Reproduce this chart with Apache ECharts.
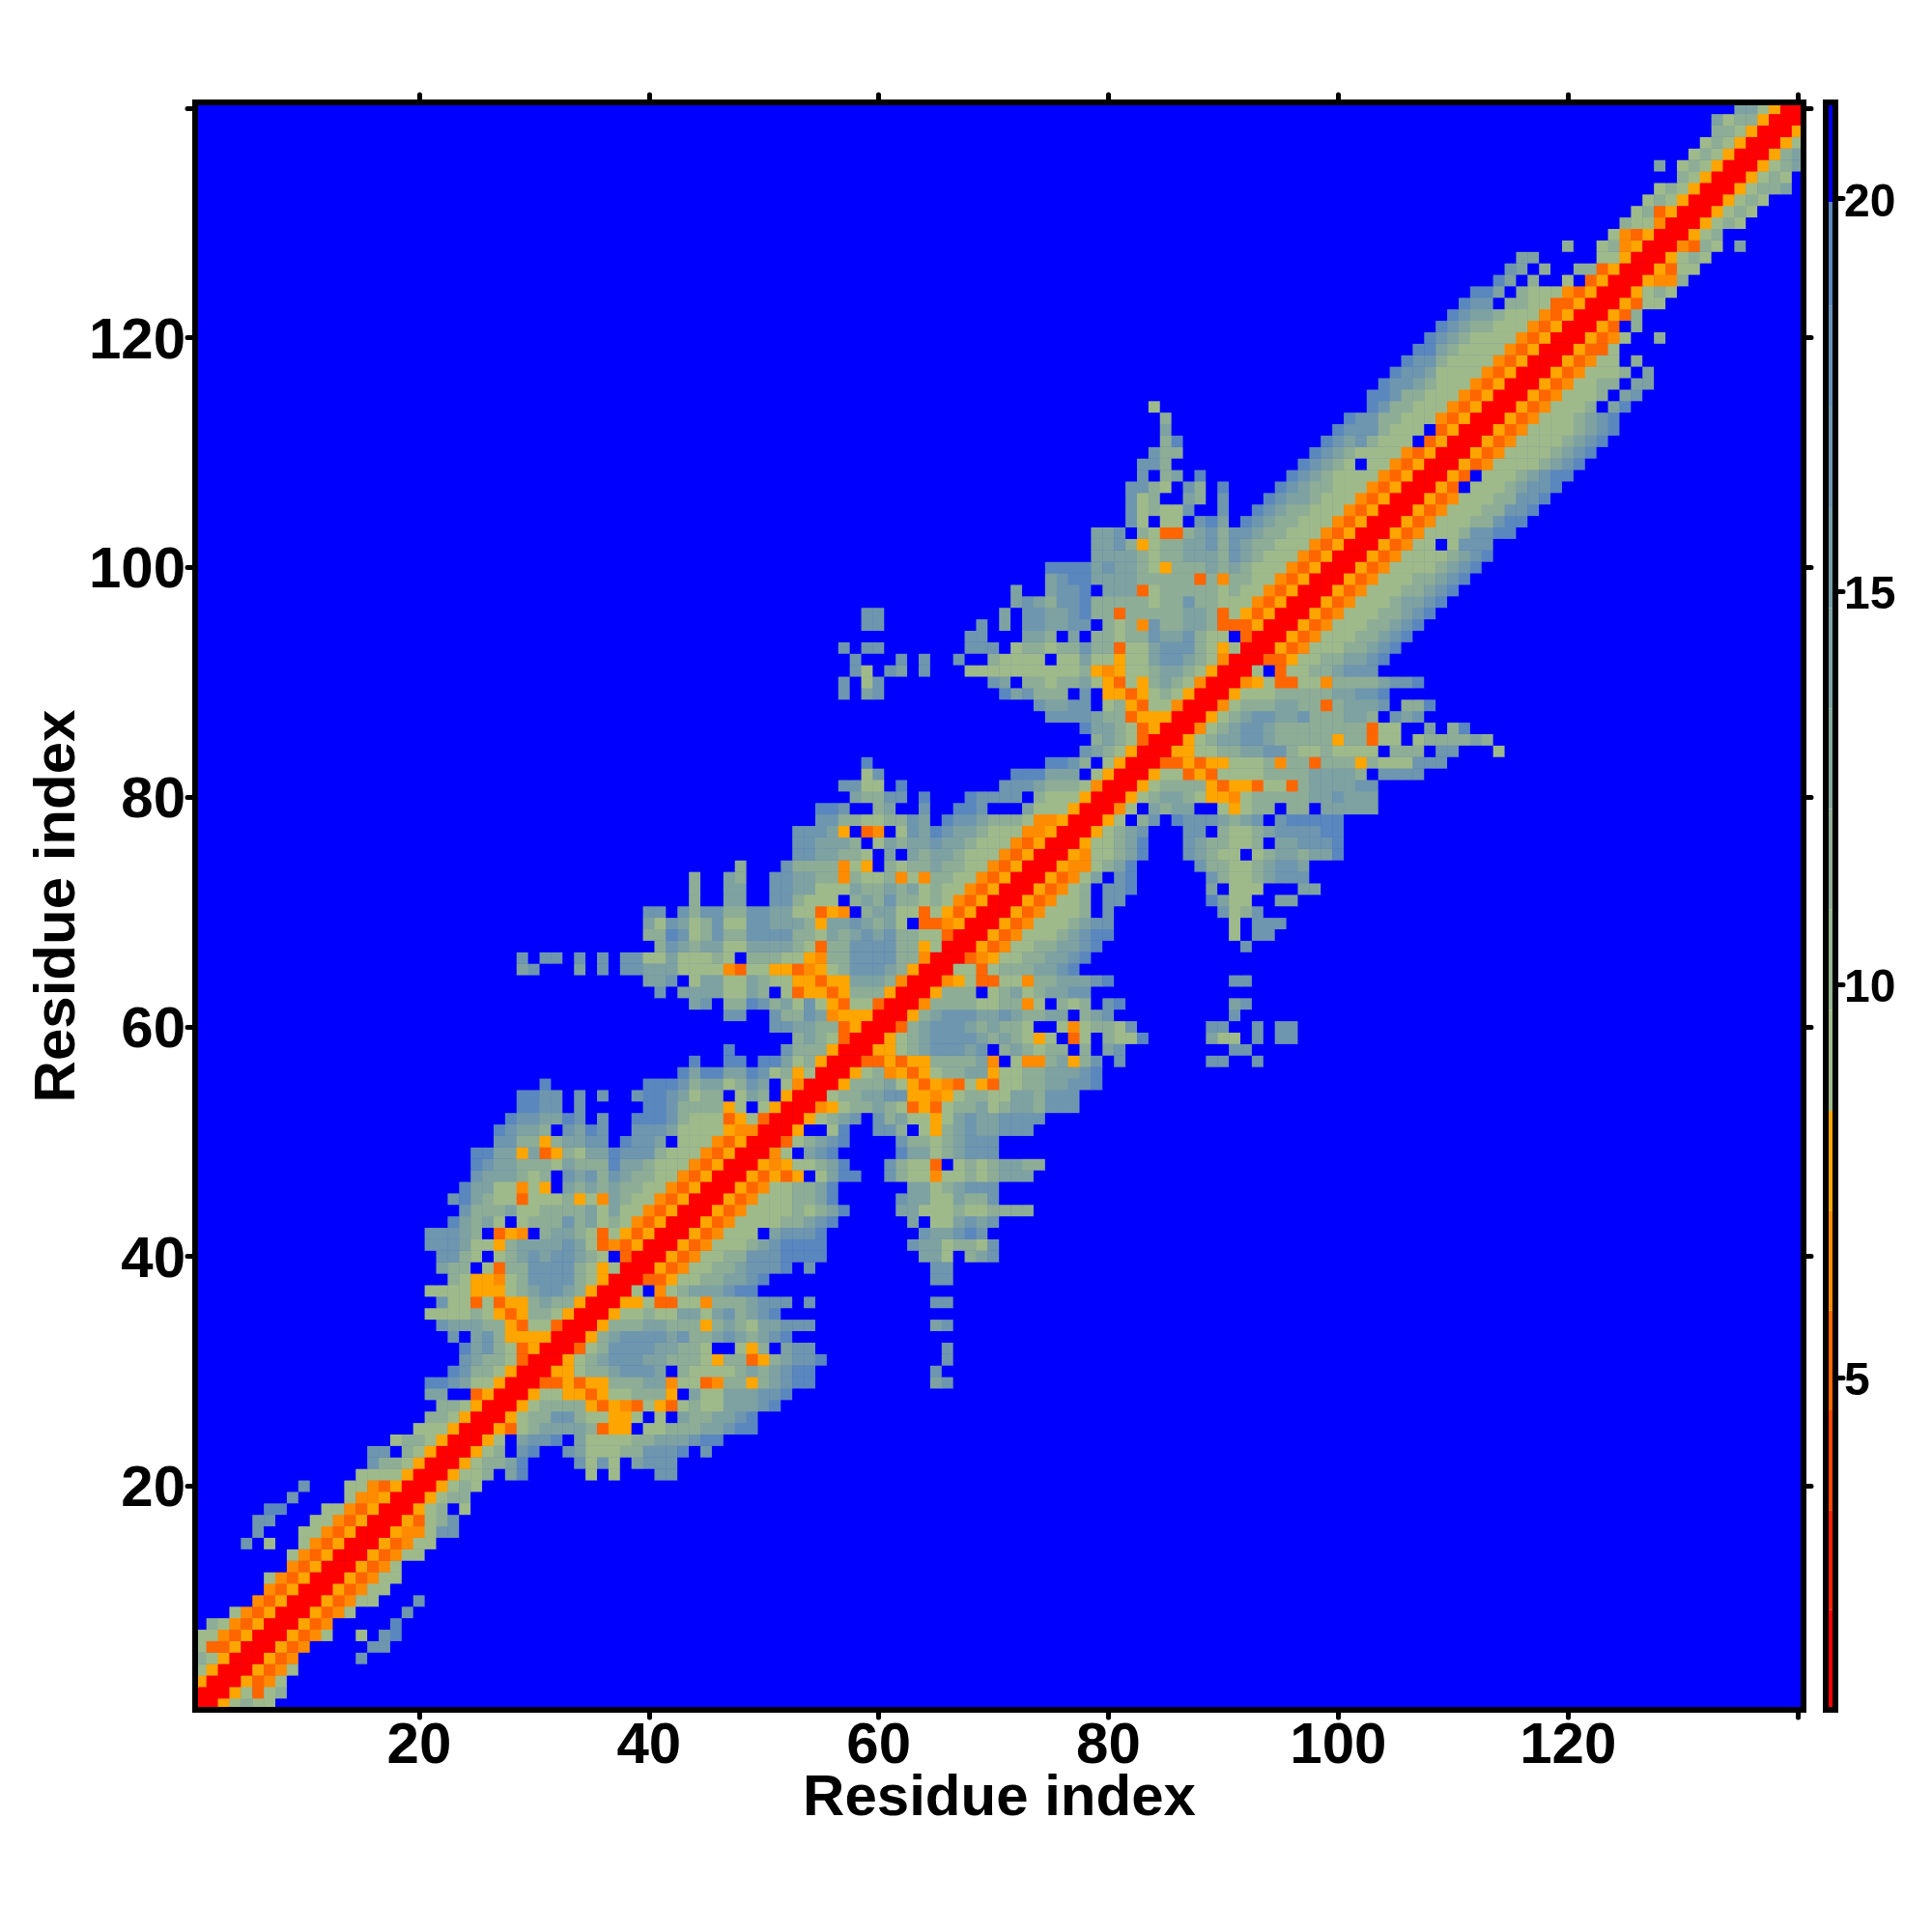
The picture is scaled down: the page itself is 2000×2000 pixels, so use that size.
<!DOCTYPE html>
<html><head><meta charset="utf-8">
<style>html,body{margin:0;padding:0;background:#fff}#c{width:2000px;height:2000px}</style>
<script src="https://cdn.jsdelivr.net/npm/echarts@6/dist/echarts.min.js"></script>
</head><body><div id="c"></div>
<script>
const residueCount = 140;
const tickStep = 20;
const colorbarTicks = [5, 10, 15, 20];
// Distance read per legend step: 0 red, 1/2/3 oranges, g-k green to steel blue, '.' blue (beyond cutoff)
const levelKeys = ['0','1','2','3','g','h','i','j','k','.'];
const levelDistances = [1.5, 5.3, 6.5, 7.8, 9, 11.5, 14, 16.5, 19, 21];
// Legend steps
const legendEdges = [0.77,2.04,3.31,4.58,5.85,7.12,8.39,9.67,10.95,12.23,13.51,14.79,16.07,17.35,18.63,19.95,21.22];
const legendColors = ['#FF0000','#FF2000','#FF4500','#FF6600','#FF8C00','#FFA500','#9FBA8A','#97B490','#8EAD96','#86A89C','#7EA2A2','#769CA8','#6E96AE','#6690B4','#5A87BE','#0000FF'];
// One row per residue j: contact levels for residues j, j+1, ... (matrix is symmetric)
const contactRows = [
"003ghgg","003g1gh","00312g","00312g","00312.....j","00312.....jj","00312g..g.jk","00312.....k","00312g....j","00312gg...j",
"00312gg","00312gg","00312g","00312gg","00312gg","00322gjj","0031ghj","003gh.g","003ghh","003ghg",
"003ggh.ik.....g.g...jj","003ghhik....jgjg.ijjj","003gh.jk..jiggghhjjjk.j","003g.ijjk.igggghhiiijkk","0031ghiiiih133.gghhhiijkk",
"003ghhjjhgg33g.g.ihhiijk","003ghhhh31321g31ghggiiijk","003gg3313gghhh3.iggiiijjk",
"00113133hhhii2gg12hh3hijkk..........ij","0033ghhijjji.hgggghihijkk..........j",
"003ghijjjiihhhg3hh13hijjk..........j","001ghjjjjiihhg..g3h.ijj...........j","003hijjjjijhhijihijk",
"003hhhiihhh3hihgiijjj..........ij","003gghggiigijhijk","0033g11gg2hhhijjj.j..........jj","00g.2ghiiijkk",
"00113gghhiijk..............jj","00312gghhijjjk.j..........jj","00312gghhjjjkkkk........iig.hij",
"00312ggghijkkkk.......jiighhgj","00312ggg.ijjjk........jiijkj","00312gggghhijk......i.ggijij","00312gggghghik....iiggghgghhhh",
"00312ggghhik.....jiiggihhj","00312gghhik......iighijjj","0031313.gikk..jhgg2gghghiii","00323gghik...jhgg1.ghghiihh",
"002g.ijk.....kiighijjj","001ghijk....jhhghijjj",
"003..gk..jjh.g3hijiijjj","003ghij.jhigg3gijiijjjj","0023ghhihg131ghhighiihjjj","00ghhiijj3323ghhggiihjjj",
"003hhhig31321g31gghhiijjk","003gh2313ghhii3gghhiiijk",
"00113133hhhhi2.g22hi3hj.j.......jj..j","0033ghijjjij.hihghh.h.ij.........jj",
"003ghijjjjihihg3g.1g.hggk.....igg.j.jj","001hijjjihihhg..g2ghhgj......jj..j.jj",
"003hijjjiijihhii.hij..........j","002hhhhgghh2g.hgh.jk.........ij","003hhh.ghighiijj","0023g11gg2hhiiijk..........jj",
"00gg1ghhhiijk","00123gghhiijk","00312gghhiijk............j","00312ggghijkk..........g.jj","00312ggghijj..........g.jjj",
"00312gggh.j.........jghj","00312ggh.jj.......kigg..ii","00312gh.jjk......i.ggg...ii","00312gi.jk......jhgghijjj",
"00322ghik.....jhhgghijji","0032gghik...jihgg.ghiihiik","003gghik...jihhggh.iijjjk","003ghij...jj.hgghijjjjkk",
"003g.hj.kjjjihij.jkkkkk","002g.ihii..g3ghh.hh.iiiii","003ghiihg332ghhhhhiijiii","003ghhhh31331gg1hiiiijj",
"003gg131gggghhhhiiiih.jjjj","00113133gggh2hh1hhh3hgggjjj","0033gghhiijjhgghgggg.hhh.jj...g","003ghiijjihhhhh3hh1gg.ghhhhih",
"002ghijjihhhhhhhh1gg..i.hk","003ghijjiijhhhiih.jij","002ghhhiihh1hiiij.hhk","003ggghhhhhiijjk","0023g11gg2hhhhijjk",
"00g.1gghhijjj","00113gghhiijk","00312ggghhijk","00312ggghhijk","00312ggghhijk","00312ggghhijk","00312ggghiijk",
"00312ggghhijk","00312ggghhijk","00312gggghijk","00312gggghijk","00312gg.gjjj","00312ggghjjkk","00312ggghhjkk",
"00312ggghhjjk","00312ggghhjjk","0031.ggghijjk","0031.ggghijkk","00312gggghijk","00312gggghijk","00312gggghijk","00312gggghijk",
"00312ggghijk","00312gggh.ik","00312gggh.ij","00312gghh.ii","00312gggh.i","00312gg.h","00311g","00312g..h",
"0031.h","0031h","0031gg","003ghg","00322h","0031gg","003ghg","0021hg.i","003gh","003ghg","003ghg","003ghg","003ghhi","003ghg",
"003ghi","003hi","003g","003","00","0"
];

const font = 'Liberation Sans';
const residues = Array.from({length: residueCount}, (_, i) => String(i + 1));
const isTick = (i, v) => Number(v) % tickStep === 0;
const isLabel = (i, v) => Number(v) % tickStep === 0 && Number(v) < residueCount;

const matrix = residues.map(() => new Array(residueCount).fill(levelDistances[levelKeys.indexOf('.')]));
contactRows.forEach((row, r) => {
  [...row].forEach((ch, k) => {
    const d = levelDistances[levelKeys.indexOf(ch)];
    if (r + k < residueCount) { matrix[r][r + k] = d; matrix[r + k][r] = d; }
  });
});
const cells = [];
matrix.forEach((row, y) => row.forEach((d, x) => cells.push([x, y, d])));
const legendBands = legendColors.map((c, i) => [legendEdges[i], legendEdges[i + 1], i]);

const tick = {show: true, inside: false, length: 8, alignWithLabel: true, interval: isTick,
  lineStyle: {color: '#000', width: 5, cap: 'round'}};
const line = {show: true, onZero: false, lineStyle: {color: '#000', width: 6, cap: 'square'}};
const labelStyle = {color: '#000', fontFamily: font, fontWeight: 'bold', fontSize: 60};
const hidden = {show: false};
const MAP = {left: 202, top: 106, width: 1665, height: 1664, show: true, borderWidth: 0, backgroundColor: '#0000FF'};
const BAR = {left: 1890, top: 106, width: 10, height: 1664};

const chart = echarts.init(document.getElementById('c'), null, {renderer: 'canvas', width: 2000, height: 2000});
chart.setOption({
  animation: false,
  backgroundColor: '#fff',
  grid: [MAP, BAR],
  xAxis: [
    {type: 'category', gridIndex: 0, position: 'bottom', data: residues, z: 10, axisLine: line, axisTick: tick,
     axisLabel: {...labelStyle, interval: isLabel, margin: 8}, splitLine: hidden,
     name: 'Residue index', nameLocation: 'middle', nameGap: 62, nameMoveOverlap: false,
     nameTextStyle: {...labelStyle}},
    {type: 'category', gridIndex: 0, position: 'top', data: residues, z: 10, axisLine: line, axisTick: tick,
     axisLabel: hidden, splitLine: hidden},
    {type: 'value', gridIndex: 1, position: 'bottom', min: 0, max: 1, z: 10, axisLine: line, axisTick: hidden, axisLabel: hidden, splitLine: hidden},
    {type: 'value', gridIndex: 1, position: 'top', min: 0, max: 1, z: 10, axisLine: line, axisTick: hidden, axisLabel: hidden, splitLine: hidden}
  ],
  yAxis: [
    {type: 'category', gridIndex: 0, position: 'left', data: residues, z: 10, axisLine: line, axisTick: tick,
     axisLabel: {...labelStyle, interval: isLabel, margin: 10, verticalAlign: 'top', lineHeight: 9}, splitLine: hidden,
     name: 'Residue index', nameLocation: 'middle', nameGap: 112, nameRotate: 90, nameMoveOverlap: false,
     nameTextStyle: {...labelStyle}},
    {type: 'category', gridIndex: 0, position: 'right', data: residues, z: 10, axisLine: line, axisTick: tick,
     axisLabel: hidden, splitLine: hidden},
    {type: 'value', gridIndex: 1, position: 'right', min: legendEdges[0], max: legendEdges[legendEdges.length - 1], z: 10,
     axisLine: line,
     axisTick: {show: true, length: 8, customValues: colorbarTicks, lineStyle: {color: '#000', width: 5, cap: 'round'}},
     axisLabel: {show: true, customValues: colorbarTicks, color: '#000', fontFamily: font, fontWeight: 'bold', fontSize: 48, margin: 9, verticalAlign: 'top', lineHeight: 10},
     splitLine: hidden},
    {type: 'value', gridIndex: 1, position: 'left', min: legendEdges[0], max: legendEdges[legendEdges.length - 1], z: 10,
     axisLine: line, axisTick: hidden, axisLabel: hidden, splitLine: hidden}
  ],
  visualMap: {
    show: false, type: 'piecewise', seriesIndex: 0, dimension: 2,
    pieces: legendBands.map(b => ({gte: b[0], lt: b[1], color: legendColors[b[2]]}))
  },
  series: [
    {type: 'heatmap', xAxisIndex: 0, yAxisIndex: 0, data: cells, progressive: 0, silent: true,
     itemStyle: {borderWidth: 0}, emphasis: {disabled: true}},
    {type: 'custom', xAxisIndex: 2, yAxisIndex: 2, data: legendBands, silent: true,
     encode: {y: [0, 1]},
     renderItem: (p, api) => {
       const a = api.coord([0, api.value(0)]);
       const b = api.coord([1, api.value(1)]);
       return {type: 'rect', shape: {x: a[0], y: b[1], width: b[0] - a[0], height: a[1] - b[1]},
               style: {fill: legendColors[api.value(2)]}};
     }}
  ]
});
</script></body></html>
